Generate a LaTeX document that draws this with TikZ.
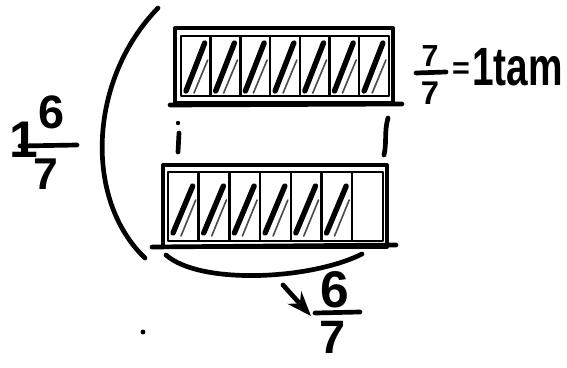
\documentclass[tikz,border=0pt]{standalone}
\usepackage{graphicx}
\usepackage{fontspec}
\newfontfamily\handfont{Liberation Sans}
\usetikzlibrary{arrows.meta}
\usetikzlibrary{calc}

\tikzset{
  frame/.style={line width=3.4pt},
  cell/.style={line width=2.2pt},
  hatch/.style={line width=4.6pt},
  thinhatch/.style={line width=1.4pt, black!70},
  pen/.style={line width=4pt},
  digit/.style={font=\handfont\bfseries\fontsize{#1}{#1}\selectfont, inner sep=0pt}
}

\begin{document}
\begin{tikzpicture}[x=0.03cm, y=-0.03cm, >=Stealth, line cap=round, line join=round]

    \useasboundingbox (0,0) rectangle (567,367);

    % top bar, all seven parts shaded
    \coordinate (TL) at (175,28);
    \coordinate (TR) at (393,103);
    \draw[frame] (TL) rectangle (TR);
    \foreach \i in {0,...,6} {
        \pgfmathsetmacro{\xa}{181+\i*29.7}
        \pgfmathsetmacro{\xb}{\xa+29.7}
        \draw[cell] (\xa,36) rectangle (\xb,96);
        \draw[hatch] (\xa+5,91) -- (\xb-6,43);
        \draw[thinhatch] (\xa+13,93) -- (\xb-3,60);
    }
    \coordinate (TA) at (170,105);
    \coordinate (TB) at (402,104);
    \draw[pen] (TA) -- (TB);

    % dotted joins between the bars
    \coordinate (DL) at (178,123);
    \fill (DL) circle (2.2);
    \coordinate (DL1) at (179,133);
    \coordinate (DL2) at (178,152);
    \draw[pen] (DL1) -- (DL2);
    \coordinate (DR1) at (388,118);
    \coordinate (DR2) at (384,155);
    \draw[pen] (DR1) .. controls (384,132) and (387,142) .. (DR2);

    % bottom bar, six parts shaded
    \coordinate (BL) at (163,165);
    \coordinate (BR) at (387,247);
    \draw[frame] (BL) rectangle (BR);
    \foreach \i in {0,...,6} {
        \pgfmathsetmacro{\xa}{168+\i*30.7}
        \pgfmathsetmacro{\xb}{\xa+30.7}
        \draw[cell] (\xa,172) rectangle (\xb,241);
        \ifnum\i<6
            \draw[hatch] (\xa+5,233) -- (\xb-6,186);
            \draw[thinhatch] (\xa+13,236) -- (\xb-3,200);
        \fi
    }
    \coordinate (BA) at (152,247);
    \coordinate (BB) at (396,245);
    \draw[pen] (BA) -- (BB);

    % big bracket on the left
    \coordinate (P1) at (158,8);
    \coordinate (P2) at (145,258);
    \draw[pen] (P1) .. controls (88,80) and (84,200) .. (P2);

    % brace under the bottom bar
    \coordinate (U1) at (166,255);
    \coordinate (U2) at (362,254);
    \draw[pen] (U1) .. controls (200,285) and (310,280) .. (U2);

    % left label
    \node[digit=44] (one) at (24,140) {1};
    \node[digit=40] (lsix) at (52,112) {6};
    \coordinate (LF1) at (20,146);
    \coordinate (LF2) at (77,145);
    \draw[pen] (LF1) -- (LF2);
    \node[digit=38] (lseven) at (46,174) {7};

    % right label
    \node[digit=26] (rnum) at (430,56) {7};
    \coordinate (RF1) at (416,73);
    \coordinate (RF2) at (446,72);
    \draw[pen] (RF1) -- (RF2);
    \node[digit=28] (rden) at (430,93) {7};
    \node[digit=26] (eq) at (461,71) {=};
    \node[digit=46, anchor=west] (whole) at (472,67) {\scalebox{0.72}[1]{1tam}};

    % bottom label
    \coordinate (AR1) at (283,285);
    \coordinate (AR2) at (311,316);
    \draw[pen, ->] (AR1) -- (AR2);
    \node[digit=44] (bsix) at (335,290) {6};
    \coordinate (BF1) at (315,313);
    \coordinate (BF2) at (360,312);
    \draw[pen] (BF1) -- (BF2);
    \node[digit=40] (bseven) at (333,337) {7};

    % stray dot
    \coordinate (S) at (143,332);
    \fill (S) circle (2.4);

\end{tikzpicture}
\end{document}
